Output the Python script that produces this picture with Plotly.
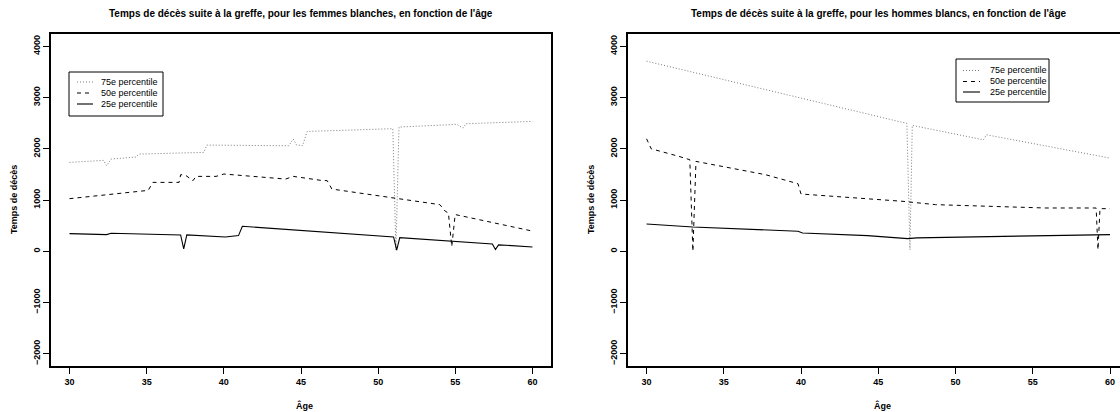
import plotly.graph_objects as go

# ---------------- data ----------------
# Femmes blanches
f_age_75 = [30, 32.2, 32.4, 32.7, 34.3, 34.5, 38.7, 38.9, 44.2, 44.5, 44.7, 45.1, 45.4, 50.95, 51.15, 51.35, 55.1, 55.5, 55.7, 60]
f_val_75 = [1734, 1773, 1669, 1800, 1838, 1896, 1929, 2072, 2059, 2189, 2078, 2059, 2338, 2392, 20, 2424, 2476, 2404, 2489, 2534]

f_age_50 = [30, 35.1, 35.4, 37.1, 37.2, 37.5, 38.0, 38.2, 39.5, 40.0, 44.0, 44.5, 46.3, 46.7, 47.0, 51.2, 52.7, 54.0, 54.35, 54.55, 54.77, 54.99, 60]
f_val_50 = [1026, 1188, 1344, 1344, 1494, 1487, 1377, 1461, 1461, 1507, 1409, 1461, 1383, 1377, 1214, 1026, 954, 909, 780, 748, 90, 716, 393]

f_age_25 = [30, 32.4, 32.7, 37.2, 37.4, 37.6, 40.1, 40.95, 41.2, 51.0, 51.2, 51.4, 57.4, 57.6, 57.8, 60]
f_val_25 = [344, 325, 351, 318, 45, 318, 279, 305, 487, 279, 20, 266, 140, 35, 125, 84]

# Hommes blancs
h_age_75 = [30, 46.85, 47.05, 47.2, 51.8, 52.0, 60]
h_val_75 = [3710, 2495, 30, 2456, 2175, 2273, 1818]

h_age_50 = [30, 30.3, 32.1, 32.8, 33.0, 33.2, 37.7, 39.8, 40.0, 46.6, 48.7, 55.8, 59.1, 59.22, 59.35, 60]
h_val_50 = [2195, 2000, 1851, 1786, 0, 1753, 1494, 1318, 1117, 974, 909, 844, 844, 30, 831, 831]

h_age_25 = [30, 33.0, 39.8, 40.1, 44.3, 46.9, 47.5, 55.8, 56.0, 60]
h_val_25 = [532, 474, 390, 357, 305, 247, 260, 292, 305, 325]

x_ticks = [30, 35, 40, 45, 50, 55, 60]
y_ticks = [-2000, -1000, 0, 1000, 2000, 3000, 4000]
legend_labels = ["75e percentile", "50e percentile", "25e percentile"]
titles = ["Temps de décès suite à la greffe, pour les femmes blanches, en fonction de l'âge",
          "Temps de décès suite à la greffe, pour les hommes blancs, en fonction de l'âge"]
x_title = "Âge"
y_title = "Temps de décès"

# ---------------- styling ----------------
W, H = 1120, 412
FONT = "Liberation Sans, Arial, Helvetica, sans-serif"
styles = [dict(color="#7a7a7a", width=1, dash="1px,2px"),
          dict(color="black", width=1, dash="4px,4px"),
          dict(color="black", width=1.1, dash="solid")]

def px(x):
    return x / W

def py(y):
    return 1 - y / H

fig = go.Figure()

panels = [
    ("x", "y", [(f_age_75, f_val_75), (f_age_50, f_val_50), (f_age_25, f_val_25)]),
    ("x2", "y2", [(h_age_75, h_val_75), (h_age_50, h_val_50), (h_age_25, h_val_25)]),
]
for xa, ya, series in panels:
    for (ages, vals), st, name in zip(series, styles, legend_labels):
        fig.add_trace(go.Scatter(x=ages, y=vals, mode="lines", name=name,
                                 line=st, xaxis=xa, yaxis=ya, showlegend=False,
                                 hoverinfo="x+y"))

top, bottom = 34, 366
left1, right1 = 51, 551
left2 = 628
ppy = 15.45  # pixels per year

axis_common = dict(showgrid=False, zeroline=False, showline=True, linecolor="black",
                   linewidth=1.6, ticks="outside", ticklen=6, tickwidth=1.2, tickcolor="black",
                   tickfont=dict(family=FONT, size=9, color="black", weight="bold"))

fig.update_layout(
    width=W, height=H, margin=dict(l=0, r=0, t=0, b=0),
    plot_bgcolor="white", paper_bgcolor="white",
    font=dict(family=FONT, color="black"),
    xaxis=dict(domain=[px(left1), px(right1)], range=[28.8, 61.2], tickvals=x_ticks,
               mirror=True, anchor="y", **axis_common),
    yaxis=dict(domain=[py(bottom), py(top)], range=[-2240, 4240], tickvals=y_ticks,
               tickangle=-90, mirror=True, anchor="x", **axis_common),
    xaxis2=dict(domain=[px(left2), 1.0], range=[28.8, 28.8 + (W - left2) / ppy], tickvals=x_ticks,
                mirror=True, anchor="y2", **axis_common),
    yaxis2=dict(domain=[py(bottom), py(top)], range=[-2240, 4240], tickvals=y_ticks,
                tickangle=-90, mirror=False, anchor="x2", **axis_common),
)

annotations = []
shapes = []

# titles and axis titles
centers = [(left1 + right1) / 2, (left2 + left2 + 502) / 2]
lefts = [left1, left2]
for c, t, l in zip(centers, titles, lefts):
    annotations.append(dict(x=px(c), y=py(14), xref="paper", yref="paper", text=t, showarrow=False,
                            xanchor="center", yanchor="middle",
                            font=dict(family=FONT, size=10, color="black", weight="bold")))
    annotations.append(dict(x=px(c + 3), y=py(405), xref="paper", yref="paper", text=x_title,
                            showarrow=False, xanchor="center", yanchor="middle",
                            font=dict(family=FONT, size=9, color="black", weight="bold")))
    annotations.append(dict(x=px(l - 37), y=py((top + bottom) / 2), xref="paper", yref="paper",
                            text=y_title, showarrow=False, textangle=-90, xanchor="center",
                            yanchor="middle",
                            font=dict(family=FONT, size=9, color="black", weight="bold")))

# manual legends
legends = [
    dict(box=(69, 72, 163, 116), rows=[82, 93, 104], sx=(77, 93), tx=99),
    dict(box=(956, 59, 1049, 102), rows=[70.5, 81.5, 92], sx=(963, 980), tx=988),
]
for lg in legends:
    x0, y0, x1, y1 = lg["box"]
    shapes.append(dict(type="rect", xref="paper", yref="paper", x0=px(x0), x1=px(x1),
                       y0=py(y1), y1=py(y0), line=dict(color="black", width=1),
                       fillcolor="white", layer="above"))
    for ry, st, lab in zip(lg["rows"], styles, legend_labels):
        shapes.append(dict(type="line", xref="paper", yref="paper", x0=px(lg["sx"][0]),
                           x1=px(lg["sx"][1]), y0=py(ry), y1=py(ry),
                           line=dict(color=st["color"], width=st["width"], dash=st["dash"]),
                           layer="above"))
        annotations.append(dict(x=px(lg["tx"]), y=py(ry), xref="paper", yref="paper", text=lab,
                                showarrow=False, xanchor="left", yanchor="middle",
                                font=dict(family=FONT, size=9, color="black")))

fig.update_layout(annotations=annotations, shapes=shapes)
fig.write_html("out.html")
